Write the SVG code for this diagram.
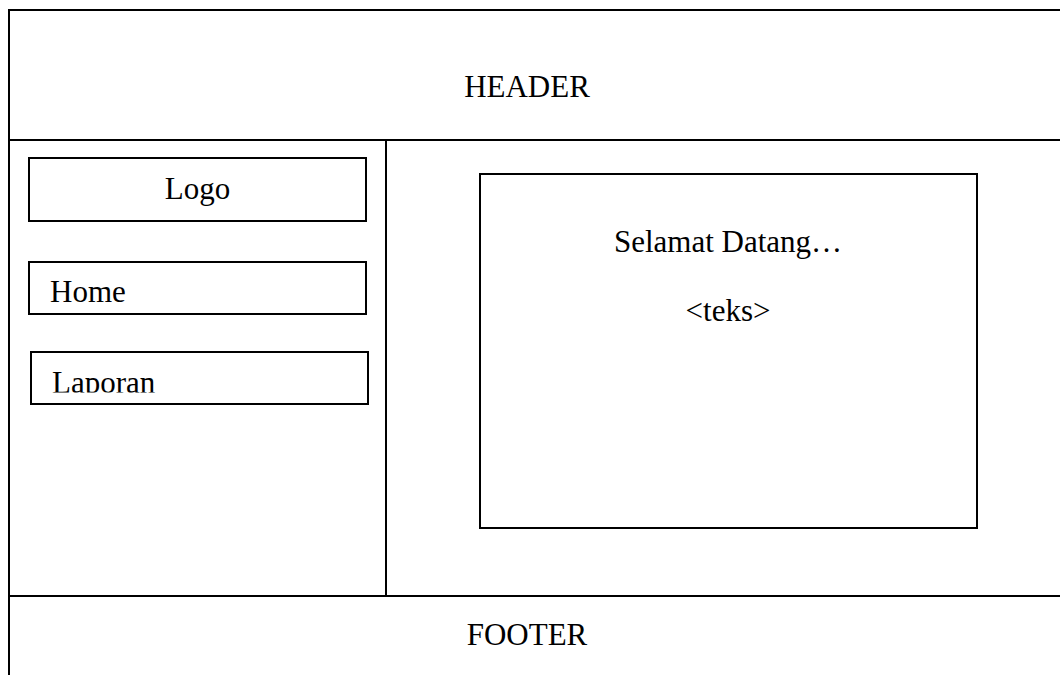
<svg xmlns="http://www.w3.org/2000/svg" width="1060" height="675" viewBox="0 0 1060 675">
  <style>
    .ln { stroke: #000; stroke-width: 2; fill: none; }
    .bx { stroke: #000; stroke-width: 2; fill: #fff; }
    .t { font-family: "Liberation Serif", "Times New Roman", serif; font-size: 31px; fill: #000; }
    .c { text-anchor: middle; }
  </style>
  <defs>
    <clipPath id="clipLap">
      <rect x="30" y="352" width="340" height="40.5"/>
    </clipPath>
  </defs>
  <rect width="1060" height="675" fill="#fff"/>
  <g id="frame">
    <line class="ln" x1="9" y1="10" x2="9" y2="675"/>
    <line class="ln" x1="8" y1="10" x2="1060" y2="10"/>
    <line class="ln" x1="8" y1="140" x2="1060" y2="140"/>
    <line class="ln" x1="386" y1="140" x2="386" y2="596"/>
    <line class="ln" x1="8" y1="596" x2="1060" y2="596"/>
  </g>
  <g id="header">
    <text class="t c" x="527" y="97">HEADER</text>
  </g>
  <g id="logo">
    <rect class="bx" x="29" y="158" width="337" height="63"/>
    <text class="t c" x="197.5" y="199">Logo</text>
  </g>
  <g id="home">
    <rect class="bx" x="29" y="262" width="337" height="52"/>
    <text class="t" x="50" y="302">Home</text>
  </g>
  <g id="laporan">
    <rect class="bx" x="31" y="352" width="337" height="52"/>
    <text class="t" x="52" y="393" clip-path="url(#clipLap)">Laporan</text>
  </g>
  <g id="content">
    <rect class="bx" x="480" y="174" width="497" height="354"/>
    <text class="t c" x="728" y="252">Selamat Datang…</text>
    <text class="t c" x="728" y="321">&lt;teks&gt;</text>
  </g>
  <g id="footer">
    <text class="t c" x="527" y="645">FOOTER</text>
  </g>
  <g id="connectors"></g>
</svg>
